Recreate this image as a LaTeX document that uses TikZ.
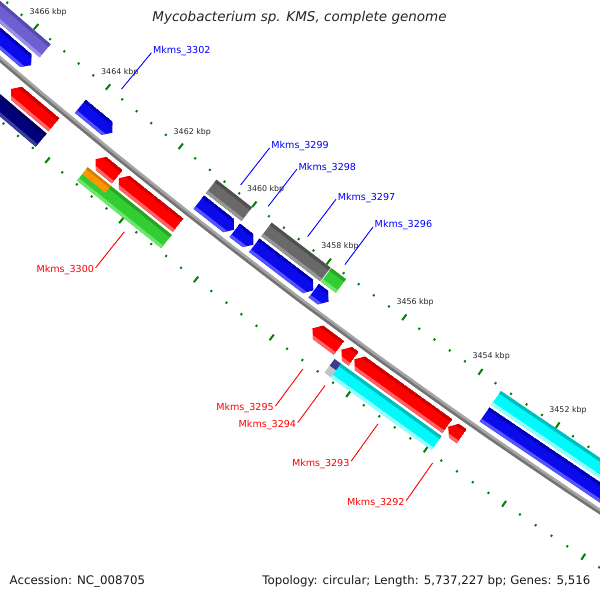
\documentclass[tikz,border=0pt]{standalone}
\usepackage{fontspec}
\setmainfont{DejaVu Sans}
\definecolor{cblue}{RGB}{10,10,235}
\definecolor{cbluedk}{RGB}{0,0,185}
\definecolor{cbluelt}{RGB}{85,85,255}
\definecolor{cred}{RGB}{255,0,0}
\definecolor{creddk}{RGB}{205,0,0}
\definecolor{credlt}{RGB}{255,100,100}
\definecolor{cgray}{RGB}{105,105,105}
\definecolor{cgraydk}{RGB}{80,80,80}
\definecolor{cgraylt}{RGB}{150,150,150}
\definecolor{cslate}{RGB}{110,95,210}
\definecolor{cslatedk}{RGB}{85,75,175}
\definecolor{cslatelt}{RGB}{155,145,230}
\definecolor{cnavy}{RGB}{0,0,120}
\definecolor{cnavydk}{RGB}{0,0,90}
\definecolor{cnavylt}{RGB}{60,60,160}
\definecolor{cgreen}{RGB}{50,205,50}
\definecolor{cgreendk}{RGB}{40,165,40}
\definecolor{cgreenlt}{RGB}{110,230,110}
\definecolor{corange}{RGB}{255,150,0}
\definecolor{corangedk}{RGB}{220,120,0}
\definecolor{ccyan}{RGB}{0,250,250}
\definecolor{ccyandk}{RGB}{0,190,190}
\definecolor{ccyanlt}{RGB}{150,255,255}
\definecolor{cpdark}{RGB}{60,60,140}
\definecolor{cplight}{RGB}{195,195,200}
\definecolor{tickgreen}{RGB}{0,128,0}
\definecolor{bblight}{RGB}{165,165,165}
\definecolor{bbdark}{RGB}{115,115,115}
\definecolor{labblue}{RGB}{0,0,255}
\definecolor{labred}{RGB}{255,0,0}
\tikzset{
  majtick/.style={draw=tickgreen, line width=2pt},
  mintick/.style={draw=tickgreen, line width=1.9pt},
  ticklab/.style={font=\fontsize{7.9}{9}\selectfont, text=black!85, inner sep=0pt},
  glabin/.style={font=\fontsize{9.6}{11}\selectfont, text=labblue, inner sep=0pt, anchor=west},
  glabout/.style={font=\fontsize{9.6}{11}\selectfont, text=labred, inner sep=0pt, anchor=east},
  lnblue/.style={draw=labblue, line width=0.9pt},
  lnred/.style={draw=labred, line width=0.9pt},
  titlefont/.style={font=\fontsize{13.5}{16}\selectfont\itshape, text=black!85, inner sep=0pt},
  footfont/.style={font=\fontsize{11.8}{14}\selectfont, text=black!90, inner sep=0pt},
}
\newcommand{\featbox}[5]{%
  \fill[#5] ({kang(#1)}:#3) -- ({kang(#2)}:#3) -- ({kang(#2)}:#4) -- ({kang(#1)}:#4) -- cycle;
  \fill[#5dk] ({kang(#1)}:#3) -- ({kang(#2)}:#3) -- ({kang(#2)}:{#3+3.2}) -- ({kang(#1)}:{#3+3.2}) -- cycle;
  \fill[#5lt] ({kang(#1)}:{#4-3.2}) -- ({kang(#2)}:{#4-3.2}) -- ({kang(#2)}:#4) -- ({kang(#1)}:#4) -- cycle;
}
\newcommand{\featarrow}[5]{%
  \pgfmathsetmacro\kbase{#2+0.15*sign(#1-#2)}%
  \pgfmathsetmacro\rmid{(#3+#4)/2}%
  \begin{scope}
    \clip ({kang(#1)}:#3) -- ({kang(\kbase)}:#3) -- ({kang(#2)}:\rmid) -- ({kang(\kbase)}:#4) -- ({kang(#1)}:#4) -- cycle;
    \featbox{#1}{#2}{#3}{#4}{#5}
  \end{scope}
}
\newcommand{\featplain}[5]{%
  \fill[#5] ({kang(#1)}:#3) -- ({kang(#2)}:#3) -- ({kang(#2)}:#4) -- ({kang(#1)}:#4) -- cycle;
}
\begin{document}
\begin{tikzpicture}[x=1pt,y=-1pt,declare function={kang(\k)=124.31+(\k-3452)*0.4393;}]
\useasboundingbox (0,0) rectangle (600,600);
\fill[white] (0,0) rectangle (600,600);
\begin{scope}
\clip (0,0) rectangle (600,600);
\begin{scope}[shift={(4006,-4628)}]
  % ticks
  \foreach \i in {3,...,48}{
    \pgfmathsetmacro\aa{kang(3448+0.4*\i)}
    \pgfmathtruncatemacro\ismaj{mod(\i,5)==0}
    \ifnum\ismaj=1
      \draw[majtick] (\aa:6114.5) -- (\aa:6121.5);
      \draw[majtick] (\aa:6209.5) -- (\aa:6216.5);
      \ifnum\i>9
        \pgfmathtruncatemacro\lab{round(3448+0.4*\i)}
        \node[ticklab] (tl\i) at (\aa:6099.5) {\lab\ kbp};
      \fi
    \else
      \draw[mintick] (\aa:6117.4) -- (\aa:6119.6);
      \draw[mintick] (\aa:6211.9) -- (\aa:6214.1);
    \fi
  }
  % backbone
  \draw[bblight, line width=2.8pt] plot[domain=3446:3470, samples=25] ({kang(\x)}:6164.8);
  \draw[bbdark, line width=2.6pt] plot[domain=3446:3470, samples=25] ({kang(\x)}:6167.4);
  % inner band 2 (far)
  \featbox{3467.5}{3465.52}{6122}{6139}{cslate}
  \featbox{3460.96}{3460.0}{6122}{6139}{cgray}
  \featbox{3459.47}{3457.89}{6122}{6139}{cgray}
  \featbox{3457.87}{3457.48}{6122}{6139}{cgreen}
  \featbox{3453.41}{3449.5}{6122}{6139}{ccyan}
  % inner band 1 (near)
  \featarrow{3467.5}{3465.55}{6142}{6159}{cblue}
  \featarrow{3464.19}{3463.31}{6142}{6159}{cblue}
  \featarrow{3460.96}{3460.01}{6142}{6159}{cblue}
  \featarrow{3459.99}{3459.49}{6142}{6159}{cblue}
  \featarrow{3459.47}{3457.89}{6142}{6159}{cblue}
  \featarrow{3457.88}{3457.49}{6142}{6159}{cblue}
  \featarrow{3453.41}{3449.3}{6142}{6159}{cblue}
  % outer band 1 (near)
  \featarrow{3464.37}{3465.55}{6173}{6190}{cred}
  \featarrow{3462.64}{3463.23}{6173}{6190}{cred}
  \featarrow{3461.00}{3462.60}{6173}{6190}{cred}
  \featarrow{3456.73}{3457.43}{6173}{6190}{cred}
  \featarrow{3456.35}{3456.67}{6173}{6190}{cred}
  \featarrow{3453.91}{3456.33}{6173}{6190}{cred}
  \featarrow{3453.54}{3453.89}{6173}{6190}{cred}
  % outer band 2 (far)
  \featbox{3467.0}{3464.37}{6193}{6210}{cnavy}
  \featbox{3463.25}{3460.98}{6193}{6210}{cgreen}
  \featplain{3463.25}{3462.63}{6193}{6201.5}{corange}
  \featplain{3463.25}{3462.63}{6193}{6195.2}{corangedk}
  \featplain{3456.67}{3456.46}{6193}{6201.5}{cpdark}
  \featplain{3456.67}{3456.46}{6201.5}{6210}{cplight}
  \featbox{3456.50}{3453.89}{6193}{6210}{ccyan}
  % label connector end points
  \coordinate (s3302) at ({kang(3463.75)}:6111);
  \coordinate (e3302) at ({kang(3463.75)}:6064);
  \coordinate (s3299) at ({kang(3460.485)}:6111);
  \coordinate (e3299) at ({kang(3460.485)}:6064);
  \coordinate (s3298) at ({kang(3459.74)}:6111);
  \coordinate (e3298) at ({kang(3459.74)}:6064);
  \coordinate (s3297) at ({kang(3458.68)}:6111);
  \coordinate (e3297) at ({kang(3458.68)}:6064);
  \coordinate (s3296) at ({kang(3457.685)}:6111);
  \coordinate (e3296) at ({kang(3457.685)}:6064);
  \coordinate (s3300) at ({kang(3461.80)}:6220);
  \coordinate (e3300) at ({kang(3461.80)}:6266);
  \coordinate (s3295) at ({kang(3457.08)}:6220);
  \coordinate (e3295) at ({kang(3457.08)}:6266);
  \coordinate (s3294) at ({kang(3456.50)}:6220);
  \coordinate (e3294) at ({kang(3456.50)}:6266);
  \coordinate (s3293) at ({kang(3455.13)}:6220);
  \coordinate (e3293) at ({kang(3455.13)}:6266);
  \coordinate (s3292) at ({kang(3453.72)}:6220);
  \coordinate (e3292) at ({kang(3453.72)}:6266);
\end{scope}
\end{scope}
% connectors
\draw[lnblue] (s3302) -- (e3302);
\draw[lnblue] (s3299) -- (e3299);
\draw[lnblue] (s3298) -- (e3298);
\draw[lnblue] (s3297) -- (e3297);
\draw[lnblue] (s3296) -- (e3296);
\draw[lnred] (s3300) -- (e3300);
\draw[lnred] (s3295) -- (e3295);
\draw[lnred] (s3294) -- (e3294);
\draw[lnred] (s3293) -- (e3293);
\draw[lnred] (s3292) -- (e3292);
% labels
\node[glabin] (t3302) at ([shift={(1.5,-1.6)}]e3302) {Mkms\_3302};
\node[glabin] (t3299) at ([shift={(1.5,-1.6)}]e3299) {Mkms\_3299};
\node[glabin] (t3298) at ([shift={(1.5,-1.6)}]e3298) {Mkms\_3298};
\node[glabin] (t3297) at ([shift={(1.5,-1.6)}]e3297) {Mkms\_3297};
\node[glabin] (t3296) at ([shift={(1.5,-1.6)}]e3296) {Mkms\_3296};
\node[glabout] (t3300) at ([shift={(-1.5,2.4)}]e3300) {Mkms\_3300};
\node[glabout] (t3295) at ([shift={(-1.5,2.4)}]e3295) {Mkms\_3295};
\node[glabout] (t3294) at ([shift={(-1.5,2.4)}]e3294) {Mkms\_3294};
\node[glabout] (t3293) at ([shift={(-1.5,2.4)}]e3293) {Mkms\_3293};
\node[glabout] (t3292) at ([shift={(-1.5,2.4)}]e3292) {Mkms\_3292};
% title and footer
\node[titlefont] (title) at (299.5,18) {Mycobacterium sp. KMS, complete genome};
\node[footfont, anchor=base west] (acc) at (9.5,584.5) {Accession: NC\_008705};
\node[footfont, anchor=base east] (topo) at (590.5,584.5) {Topology: circular; Length: 5,737,227 bp; Genes: 5,516};
\end{tikzpicture}
\end{document}
